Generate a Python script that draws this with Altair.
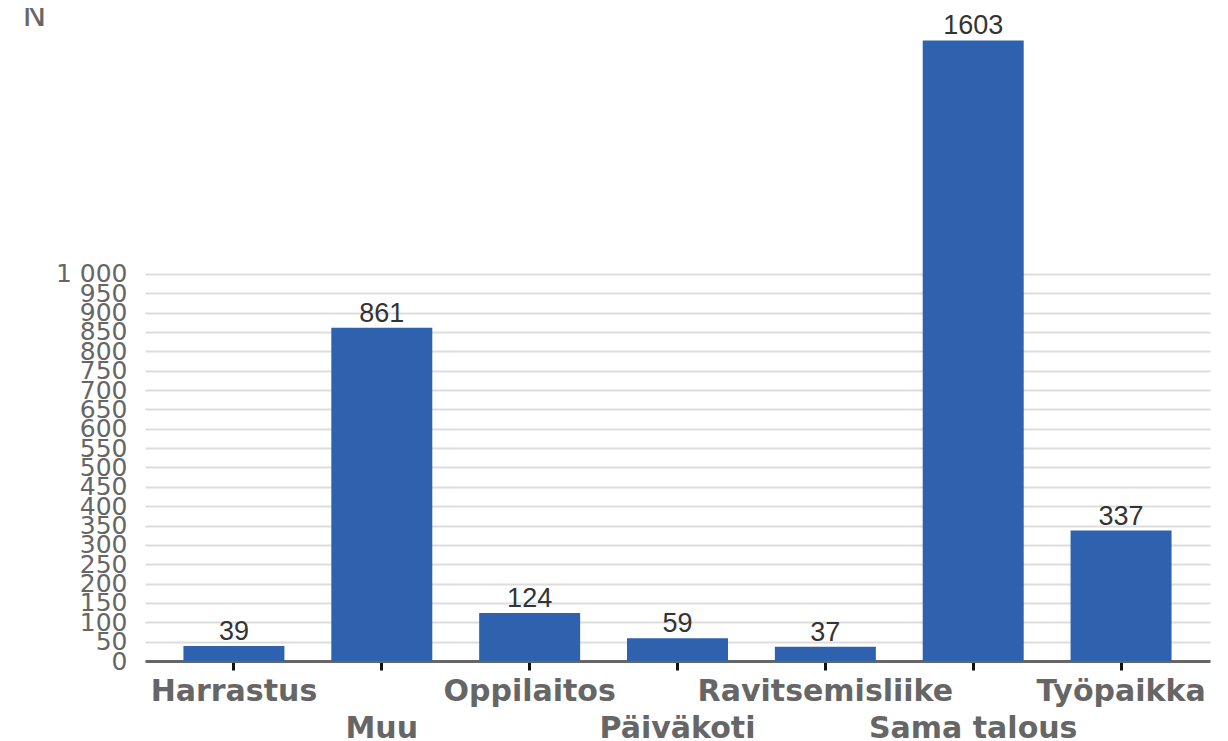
import altair as alt
import pandas as pd

categories = ["Harrastus", "Muu", "Oppilaitos", "Päiväkoti", "Ravitsemisliike", "Sama talous", "Työpaikka"]
values = [39, 861, 124, 59, 37, 1603, 337]
y_ticks = list(range(0, 1001, 50))
lower_row = ["Muu", "Päiväkoti", "Sama talous"]

df = pd.DataFrame({"cat": categories, "n": values})

x_axis = alt.Axis(
    title=None,
    labelAngle=0,
    labelFont="DejaVu Sans",
    labelFontWeight="bold",
    labelFontSize=30,
    labelColor="#666666",
    labelPadding=6,
    labelLimit=0,
    labelLineHeight=37,
    labelExpr="indexof(" + str(lower_row) + ", datum.value) >= 0 ? ['', datum.label] : datum.label",
    domainColor="#666666",
    domainWidth=3,
    tickColor="#111111",
    tickWidth=3,
    tickSize=9,
    grid=False,
)

y_axis = alt.Axis(
    title="N",
    titleAngle=0,
    titleAlign="left",
    titleBaseline="bottom",
    titleX=-123,
    titleY=2,
    titleFont="DejaVu Sans",
    titleFontWeight="normal",
    titleFontSize=32,
    titleColor="#666666",
    values=y_ticks,
    labelExpr="datum.value == 1000 ? '1 000' : datum.label",
    labelFont="DejaVu Sans",
    labelFontSize=25,
    labelColor="#666666",
    labelPadding=18,
    labelBaseline="middle",
    labelOverlap=False,
    domain=False,
    ticks=False,
    grid=True,
    gridColor="#dddddd",
    gridWidth=2,
)

x = alt.X("cat:N", sort=categories,
          scale=alt.Scale(paddingInner=0.317, paddingOuter=0.26), axis=x_axis)
y = alt.Y("n:Q", scale=alt.Scale(domain=[0, 1630], nice=False), axis=y_axis)

base = alt.Chart(df).encode(x=x, y=y)
bars = base.mark_bar(color="#2f62ae")
text = base.mark_text(
    baseline="bottom", dy=0, font="Liberation Sans", fontSize=27, color="#333333"
).encode(text="n:Q")

chart = (
    alt.layer(bars, text)
    .properties(
        width=1065,
        height=631,
        autosize=alt.AutoSizeParams(type="none"),
        padding={"left": 137, "top": 22, "right": 10, "bottom": 80},
    )
    .configure_view(stroke=None)
)

chart.save("out.html", embed_options={"renderer": "svg", "actions": False})
